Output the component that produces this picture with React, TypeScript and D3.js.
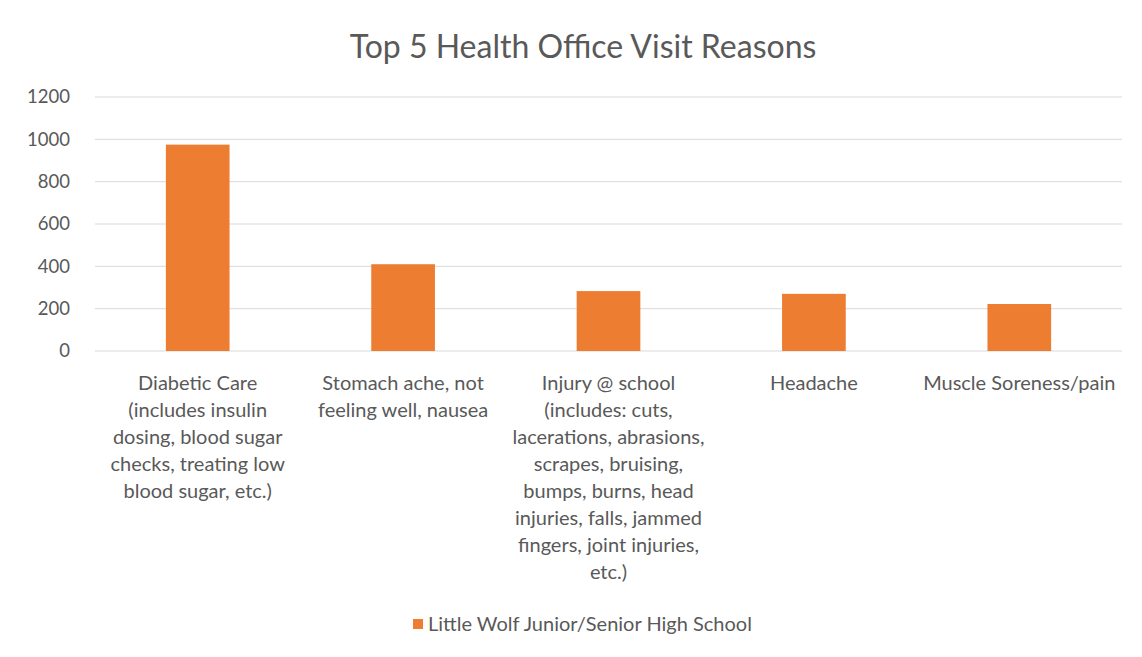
import * as d3 from "d3";

const categories = [
  "Diabetic Care (includes insulin dosing, blood sugar checks, treating low blood sugar, etc.)",
  "Stomach ache, not feeling well, nausea",
  "Injury @ school (includes: cuts, lacerations, abrasions, scrapes, bruising, bumps, burns, head injuries, falls, jammed fingers, joint injuries, etc.)",
  "Headache",
  "Muscle Soreness/pain",
];
// the wrapped lines as they appear under each bar
const categoryLines = [
  ["Diabetic Care", "(includes insulin", "dosing, blood sugar", "checks, treating low", "blood sugar, etc.)"],
  ["Stomach ache, not", "feeling well, nausea"],
  [
    "Injury @ school",
    "(includes: cuts,",
    "lacerations, abrasions,",
    "scrapes, bruising,",
    "bumps, burns, head",
    "injuries, falls, jammed",
    "fingers, joint injuries,",
    "etc.)",
  ],
  ["Headache"],
  ["Muscle Soreness/pain"],
];
const visits = [975, 410, 283, 270, 222];
const yTicks = [0, 200, 400, 600, 800, 1000, 1200];
const seriesName = "Little Wolf Junior/Senior High School";

const W = 1142;
const H = 657;
const margin = { top: 97, right: 20, bottom: 306, left: 95 };
const font = "Lato, 'Open Sans', sans-serif";
const grey = "#595959";
const orange = "#ED7D31";

export default function App() {
  const x = d3
    .scaleBand()
    .domain(categories)
    .range([margin.left, W - margin.right])
    .paddingInner(0.69)
    .paddingOuter(0.345);
  const y = d3
    .scaleLinear()
    .domain([0, 1200])
    .range([H - margin.bottom, margin.top]);

  return (
    <svg
      width={W}
      height={H}
      style={{ position: "absolute", top: 0, left: 0, background: "#fff" }}
    >
      <text
        x={583}
        y={58}
        textAnchor="middle"
        fontFamily={font}
        fontSize={32}
        fill={grey}
      >
        Top 5 Health Office Visit Reasons
      </text>

      {yTicks.map((t) => (
        <g key={t}>
          <line
            x1={margin.left}
            x2={W - margin.right}
            y1={y(t)}
            y2={y(t)}
            stroke="#D9D9D9"
            strokeWidth={1}
          />
          <text
            x={70}
            y={y(t)}
            dy="0.35em"
            textAnchor="end"
            fontFamily={font}
            fontSize={18.5}
            fill={grey}
          >
            {t}
          </text>
        </g>
      ))}

      {categories.map((c, i) => (
        <rect
          key={c}
          x={x(c)}
          y={y(visits[i])}
          width={x.bandwidth()}
          height={y(0) - y(visits[i])}
          fill={orange}
        />
      ))}

      {categories.map((c, i) => (
        <text
          key={c}
          textAnchor="middle"
          fontFamily={font}
          fontSize={20}
          fill={grey}
        >
          {categoryLines[i].map((line, j) => (
            <tspan key={j} x={x(c)! + x.bandwidth() / 2} y={390 + j * 27}>
              {line}
            </tspan>
          ))}
        </text>
      ))}

      <rect x={413} y={619} width={10} height={10} fill={orange} />
      <text x={428} y={631} fontFamily={font} fontSize={20} fill={grey}>
        {seriesName}
      </text>
    </svg>
  );
}
